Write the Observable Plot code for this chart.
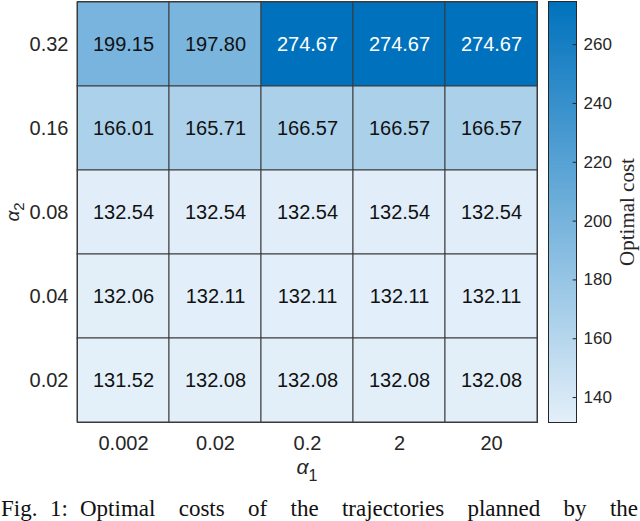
<!DOCTYPE html>
<html>
<head>
<meta charset="utf-8">
<script src="https://cdn.jsdelivr.net/npm/d3@7"></script>
<script src="https://cdn.jsdelivr.net/npm/@observablehq/plot@0.6"></script>
<style>
  html, body { margin: 0; padding: 0; background: #fff; overflow: hidden; width: 640px; height: 521px; }
  #wrap { position: relative; width: 640px; height: 521px; overflow: hidden; }
  #main { position: absolute; left: 0; top: 0; }
  #cbar { position: absolute; left: 540px; top: 0; }
  .cap {
    position: absolute; top: 497px;
    font-family: "Liberation Serif", "Times New Roman", serif; font-size: 23px; line-height: 23px;
    color: #111; white-space: nowrap;
  }
  #capRest { left: 80px; width: 558px; text-align: justify; text-align-last: justify; }
</style>
</head>
<body>
<div id="wrap">
  <div id="main"></div>
  <div id="cbar"></div>
  <div class="cap" id="capFig" style="left:1px">Fig.</div>
  <div class="cap" id="capNum" style="left:50px">1:</div>
  <div class="cap" id="capRest">Optimal costs of the trajectories planned by the</div>
</div>
<script>
const alpha1 = ["0.002", "0.02", "0.2", "2", "20"];
const alpha2 = ["0.32", "0.16", "0.08", "0.04", "0.02"]; // top to bottom
const row032 = [199.15, 197.80, 274.67, 274.67, 274.67];
const row016 = [166.01, 165.71, 166.57, 166.57, 166.57];
const row008 = [132.54, 132.54, 132.54, 132.54, 132.54];
const row004 = [132.06, 132.11, 132.11, 132.11, 132.11];
const row002 = [131.52, 132.08, 132.08, 132.08, 132.08];
const colorbarTicks = [140, 160, 180, 200, 220, 240, 260];
const colorLabel = "Optimal cost";

const rows = [row032, row016, row008, row004, row002];
const cells = [];
rows.forEach((r, i) => r.forEach((v, j) => cells.push({a1: alpha1[j], a2: alpha2[i], v})));

const vmin = d3.min(cells, d => d.v), vmax = d3.max(cells, d => d.v);
const colorOpts = {type: "linear", domain: [vmin, vmax], range: ["#e3eff9", "#0072bd"], interpolate: "rgb"};
const sans = "'Liberation Sans', Arial, Helvetica, sans-serif";

const main = Plot.plot({
  width: 545, height: 500,
  marginLeft: 77, marginRight: 8, marginTop: 1, marginBottom: 78,
  style: {fontFamily: sans, fontSize: "20px", color: "#262626", background: "transparent"},
  x: {type: "band", domain: alpha1, padding: 0, label: null, tickSize: 0, tickPadding: 13},
  y: {type: "band", domain: alpha2, padding: 0, label: null, tickSize: 0, tickPadding: 9},
  color: colorOpts,
  marks: [
    Plot.cell(cells, {x: "a1", y: "a2", fill: "v", stroke: "#3a3a3a", strokeWidth: 1}),
    Plot.text(cells, {x: "a1", y: "a2", text: d => d.v.toFixed(2), fill: d => d.v > 250 ? "#ffffff" : "#111111", fontSize: 20}),
    Plot.frame({stroke: "#3a3a3a", strokeWidth: 1})
  ]
});
document.getElementById("main").appendChild(main);

// axis labels with subscripts
const ms = d3.select(main);
const t1 = ms.append("text").attr("x", 307).attr("y", 474).attr("text-anchor", "middle")
  .attr("font-family", sans).attr("fill", "#262626");
t1.append("tspan").attr("font-size", 21).attr("font-style", "italic").text("α");
t1.append("tspan").attr("font-size", 16).attr("dy", 7).text("1");
const t2 = ms.append("text").attr("transform", "translate(19,212) rotate(-90)").attr("text-anchor", "middle")
  .attr("font-family", sans).attr("fill", "#262626");
t2.append("tspan").attr("font-size", 19).attr("font-style", "italic").text("α");
t2.append("tspan").attr("font-size", 15).attr("dy", 5).text("2");

// colorbar
const nStops = 240;
const stops = d3.range(nStops).map(i => ({y1: vmin + (vmax - vmin) * i / nStops, y2: vmin + (vmax - vmin) * (i + 1) / nStops}));
const cbar = Plot.plot({
  width: 100, height: 500,
  marginLeft: 8, marginRight: 64, marginTop: 1, marginBottom: 78,
  style: {fontFamily: sans, fontSize: "17px", color: "#262626", background: "transparent", overflow: "visible"},
  x: {domain: [0, 1], axis: null},
  y: {domain: [vmin, vmax], ticks: colorbarTicks, tickSize: 0, tickPadding: 7, label: null, axis: "right"},
  color: colorOpts,
  marks: [
    Plot.rect(stops, {x1: 0, x2: 1, y1: "y1", y2: "y2", fill: d => (d.y1 + d.y2) / 2,
                      stroke: d => (d.y1 + d.y2) / 2, strokeWidth: 0.6, shapeRendering: "crispEdges"}),
    Plot.ruleY(colorbarTicks, {x1: 0.88, x2: 1, stroke: "#262626"}),
    Plot.frame({stroke: "#262626", strokeWidth: 1})
  ]
});
document.getElementById("cbar").appendChild(cbar);
d3.select(cbar).append("text").attr("transform", "translate(94,212) rotate(-90)").attr("text-anchor", "middle")
  .attr("font-family", "'Liberation Serif', 'Times New Roman', serif").attr("font-size", 21).attr("fill", "#262626")
  .text(colorLabel);
</script>
</body>
</html>
